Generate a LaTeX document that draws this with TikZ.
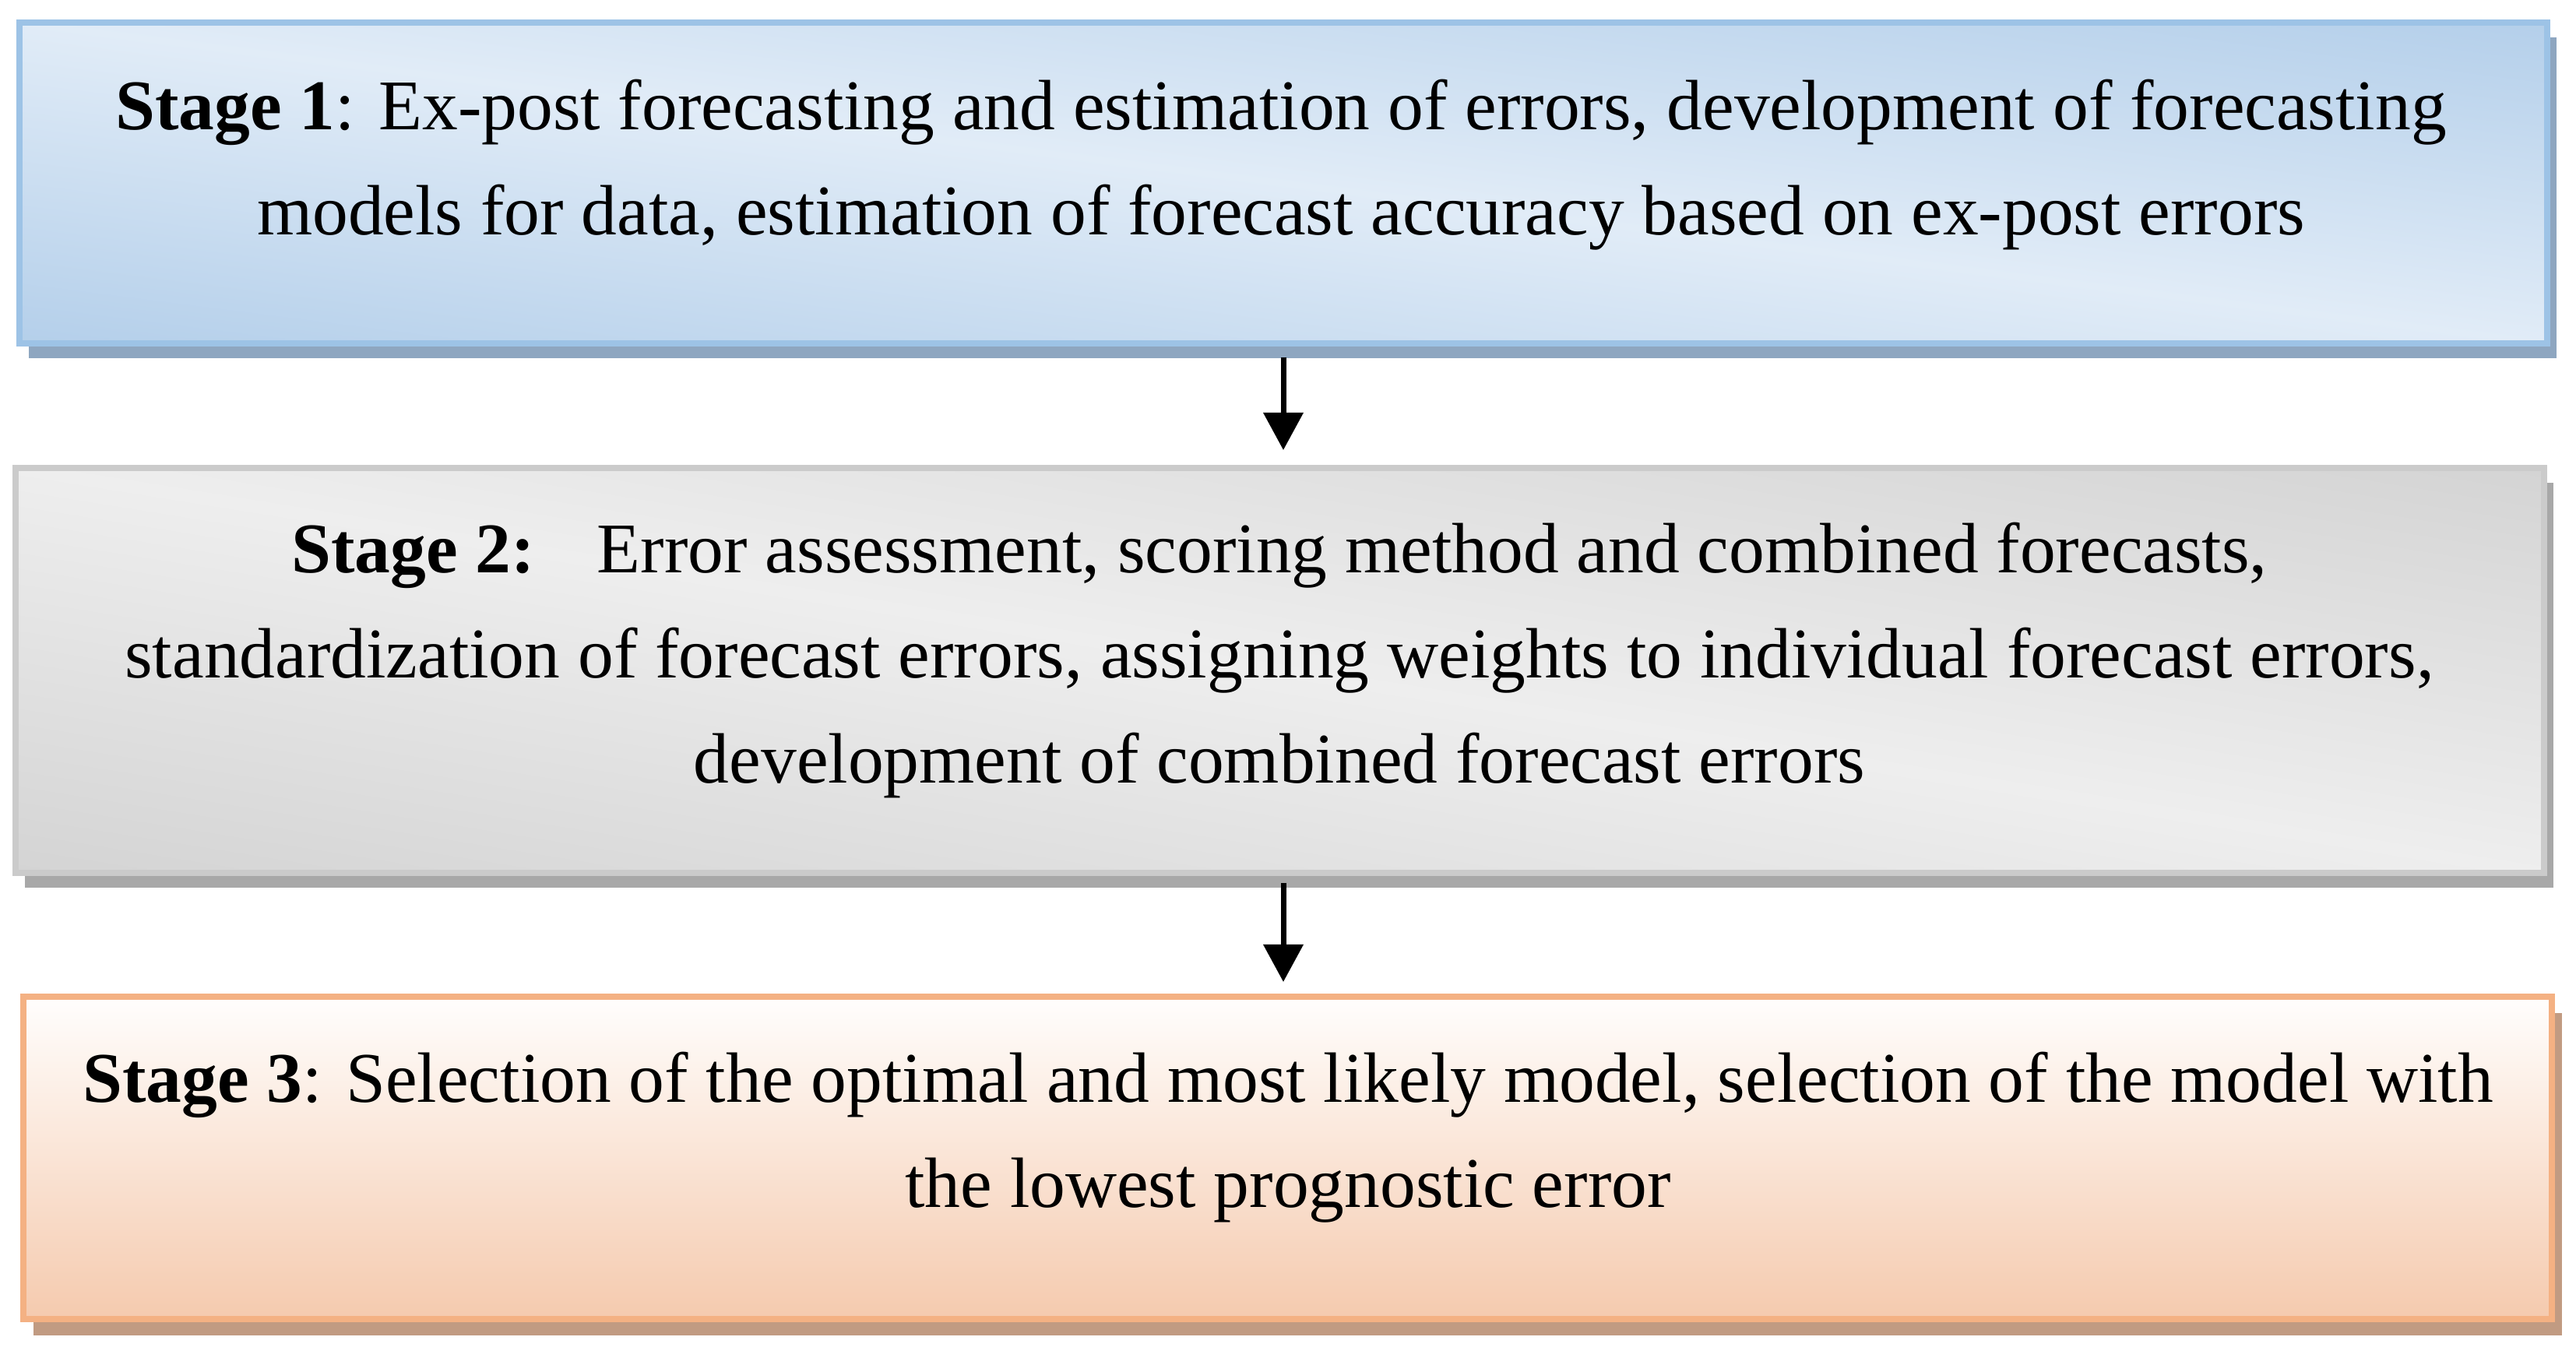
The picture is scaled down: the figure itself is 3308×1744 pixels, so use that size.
\documentclass[tikz,border=0pt]{standalone}
\usepackage{fontspec}
\setmainfont{Liberation Serif}
\usetikzlibrary{arrows.meta,shadows}
\definecolor{bOneBorder}{HTML}{9DC3E6}
\definecolor{bOneShadow}{HTML}{8EA6C0}
\definecolor{bTwoBorder}{HTML}{CBCBCB}
\definecolor{bTwoShadow}{HTML}{A8A8A8}
\definecolor{bThreeTop}{HTML}{FFFEFD}
\definecolor{bThreeBottom}{HTML}{F5CAAE}
\definecolor{bThreeBorder}{HTML}{F4B183}
\definecolor{bThreeShadow}{HTML}{C19B82}
% light along the anti-diagonal, darker towards bottom-left and top-right
\pgfdeclarefunctionalshading{blueband}{\pgfpoint{0bp}{0bp}}{\pgfpoint{100bp}{100bp}}{}{
  add 100 sub 50 div abs
  dup 1 gt {pop 1} if
  dup -0.176 mul 0.882 add
  exch
  dup -0.113 mul 0.925 add
  exch
  -0.051 mul 0.969 add
}
\pgfdeclarefunctionalshading{greyband}{\pgfpoint{0bp}{0bp}}{\pgfpoint{100bp}{100bp}}{}{
  add 100 sub 50 div abs
  dup 1 gt {pop 1} if
  -0.102 mul 0.933 add
  dup dup
}
\begin{document}
\begin{tikzpicture}[x=0.2pt, y=-0.2pt,
  stagebox/.style={rectangle, inner sep=0pt, line width=1.6pt, minimum width=649.2pt},
  stagetext/.style={font=\fontsize{18.3}{27}\selectfont, align=center, inner sep=0pt, anchor=base},
  flowarrow/.style={line width=1.4pt, -{Triangle[width=10pt, length=9.6pt]}}]
\fill[white] (0,0) rectangle (3308,1744);
\useasboundingbox (0,0) rectangle (3308,1744);
% boxes
\node[stagebox, minimum height=82.4pt, draw=bOneBorder, shading=blueband,
  drop shadow={shadow xshift=2.4pt, shadow yshift=-3.8pt, fill=bOneShadow, opacity=1}] (b1) at (1648,235) {};
\node[stagebox, minimum height=104pt, draw=bTwoBorder, shading=greyband,
  drop shadow={shadow xshift=2.4pt, shadow yshift=-3.8pt, fill=bTwoShadow, opacity=1}] (b2) at (1643.5,861) {};
\node[stagebox, minimum height=82.8pt, draw=bThreeBorder, top color=bThreeTop, bottom color=bThreeBottom,
  drop shadow={shadow xshift=2.6pt, shadow yshift=-4.2pt, fill=bThreeShadow, opacity=1}] (b3) at (1653.5,1487) {};
% texts
\node[stagetext] (t1) at (1645,302) {\textbf{Stage 1}: Ex-post forecasting and estimation of errors, development of forecasting\\models for data, estimation of forecast accuracy based on ex-post errors};
\node[stagetext] (t2) at (1643,1005) {\textbf{Stage 2:}\hspace{16pt}Error assessment, scoring method and combined forecasts,\\standardization of forecast errors, assigning weights to individual forecast errors,\\development of combined forecast errors};
\node[stagetext] (t3) at (1654,1550) {\textbf{Stage 3}: Selection of the optimal and most likely model, selection of the model with\\the lowest prognostic error};
% arrows
\draw[flowarrow, shorten <=2.8pt, shorten >=3.8pt] (b1.south) -- (b1.south |- b2.north);
\draw[flowarrow, shorten <=1.8pt, shorten >=3pt] (b1.south |- b2.south) -- (b1.south |- b3.north);
\end{tikzpicture}
\end{document}
